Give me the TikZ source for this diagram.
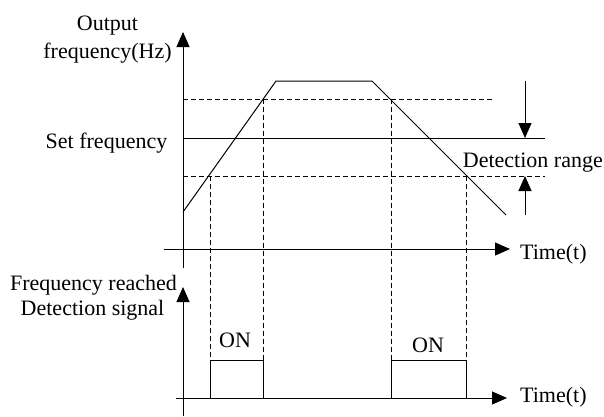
\documentclass[tikz,border=0pt]{standalone}
\usepackage{fontspec}
\setmainfont{Liberation Serif}
\usetikzlibrary{arrows.meta}
\tikzset{
  ln/.style={line width=1pt, black},
  dsh/.style={line width=0.9pt, black, dash pattern=on 5pt off 3pt},
  arr/.style={ln, -{Triangle[length=15pt,width=13pt]}},
  lbl/.style={inner sep=0pt, anchor=base, font=\fontsize{22}{25}\selectfont}
}
\begin{document}
\begin{tikzpicture}[x=1pt,y=-1pt]
\useasboundingbox[fill=white] (0,0) rectangle (604,416);
% coordinates
\coordinate (yaT) at (183,32);
\coordinate (yaB) at (183,268);
\coordinate (ybT) at (183,287);
\coordinate (ybB) at (183,416);
\coordinate (taL) at (164,249);
\coordinate (taR) at (510,249);
\coordinate (tbL) at (176,398);
\coordinate (tbR) at (507,398);
\coordinate (sfL) at (183,138);
\coordinate (sfR) at (545,138);
\coordinate (udL) at (183,99);
\coordinate (udR) at (493,99);
\coordinate (ldL) at (183,176);
\coordinate (ldR) at (545,176);
\coordinate (c0) at (183,212);
\coordinate (c1) at (276,81);
\coordinate (c2) at (372,81);
\coordinate (c3) at (506,215);
\coordinate (p1) at (210.5,176);
\coordinate (p2) at (263,99);
\coordinate (p3) at (391,99);
\coordinate (p4) at (466,176);
\coordinate (b1) at (210.5,360);
\coordinate (b2) at (263,360);
\coordinate (b3) at (391,360);
\coordinate (b4) at (466,360);
\coordinate (d1T) at (525,81);
\coordinate (d1B) at (525,138);
\coordinate (d2B) at (525,215);
\coordinate (d2T) at (525,176);
% axes
\draw[arr] (yaB) -- (yaT);
\draw[arr] (ybB) -- (ybT);
\draw[arr] (taL) -- (taR);
\draw[arr] (tbL) -- (tbR);
% levels
\draw[ln] (sfL) -- (sfR);
\draw[dsh] (udL) -- (udR);
\draw[dsh] (ldL) -- (ldR);
% frequency curve
\draw[ln] (c0) -- (c1) -- (c2) -- (c3);
% vertical dashed
\draw[dsh] (p1) -- (b1);
\draw[dsh] (p2) -- (b2);
\draw[dsh] (p3) -- (b3);
\draw[dsh] (p4) -- (b4);
% ON pulses
\draw[ln] (b1 |- tbL) -- (b1) -- (b2) -- (b2 |- tbL);
\draw[ln] (b3 |- tbL) -- (b3) -- (b4) -- (b4 |- tbL);
% detection range arrows
\draw[arr] (d1T) -- (d1B);
\draw[arr] (d2B) -- (d2T);
% labels
\node[lbl] (out1) at (107.5,30) {Output};
\node[lbl] (out2) at (107.5,58) {frequency(Hz)};
\node[lbl] (setf) at (106.5,148) {Set frequency};
\node[lbl, anchor=base east] (detr) at (603,167) {Detection range};
\node[lbl, anchor=base west] (t1) at (520,259) {Time(t)};
\node[lbl, anchor=base west] (t2) at (520,402) {Time(t)};
\node[lbl] (fr1) at (93.5,290) {Frequency reached};
\node[lbl] (fr2) at (92.5,315) {Detection signal};
\node[lbl] (on1) at (235,347) {ON};
\node[lbl] (on2) at (428,352) {ON};
\end{tikzpicture}
\end{document}
